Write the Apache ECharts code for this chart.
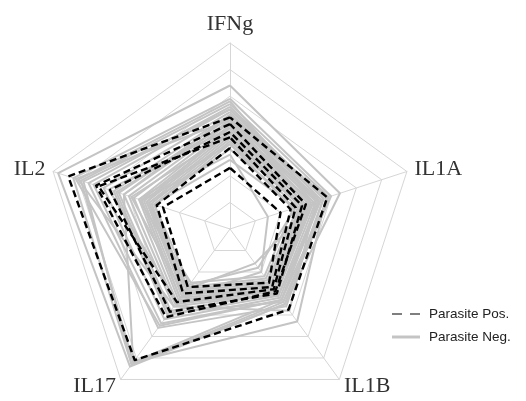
<!DOCTYPE html>
<html>
<head>
<meta charset="utf-8">
<script src="https://cdn.jsdelivr.net/npm/echarts@6/dist/echarts.min.js"></script>
<style>
  html, body { margin: 0; padding: 0; background: #fff; }
  #chart { width: 526px; height: 401px; }
</style>
</head>
<body>
<div id="chart"></div>
<script>
// Cytokine axes, in the order the radar lays them out (top, then counter-clockwise)
const cytokines = ['IFNg', 'IL2', 'IL17', 'IL1B', 'IL1A'];
const axisMax = 7;

// One row per parasite-positive sample: [IFNg, IL2, IL17, IL1B, IL1A]
const parasitePos = [
  [4.2, 6.4, 6.1, 3.75, 3.85],
  [3.95, 5.3, 4.1, 2.9, 3.0],
  [3.65, 4.75, 3.85, 3.0, 2.85],
  [3.45, 5.2, 3.4, 2.8, 2.6],
  [3.05, 2.9, 3.0, 2.7, 2.4],
  [2.3, 2.65, 2.7, 2.5, 2.0]
];

// One row per parasite-negative sample: [IFNg, IL2, IL17, IL1B, IL1A]
const parasiteNeg = [
  [5.4, 6.8, 6.4, 3.5, 4.35],
  [4.9, 6.2, 6.3, 3.4, 4.0],
  [4.7, 5.9, 6.2, 3.3, 3.9],
  [4.5, 5.8, 6.3, 3.5, 3.7],
  [4.6, 5.6, 4.6, 3.6, 3.7],
  [4.5, 5.4, 4.4, 3.3, 3.6],
  [4.1, 6.1, 4.5, 3.3, 3.5],
  [4.4, 5.0, 4.2, 3.2, 3.5],
  [4.3, 4.6, 4.0, 3.1, 3.4],
  [4.0, 4.5, 3.9, 3.4, 3.9],
  [3.8, 4.8, 3.4, 3.1, 3.6],
  [4.2, 4.4, 3.8, 3.0, 3.3],
  [4.1, 4.2, 3.6, 3.0, 3.2],
  [4.0, 4.0, 3.5, 2.9, 3.2],
  [3.9, 3.8, 3.4, 2.9, 3.1],
  [3.6, 3.9, 3.0, 2.9, 3.3],
  [3.8, 3.6, 3.3, 2.8, 3.1],
  [3.7, 3.5, 3.2, 2.8, 3.0],
  [3.6, 3.4, 3.1, 2.7, 3.0],
  [3.5, 3.3, 3.0, 2.6, 2.9],
  [3.4, 3.2, 3.0, 2.6, 2.9],
  [3.3, 3.1, 2.9, 2.5, 2.8],
  [3.2, 3.0, 2.8, 2.4, 2.8],
  [3.0, 3.2, 2.7, 2.3, 2.7],
  [3.2, 3.6, 2.5, 2.2, 2.5],
  [2.8, 3.5, 3.2, 2.0, 1.5],
  [2.6, 3.0, 2.6, 1.8, 2.6],
  [4.3, 4.2, 6.2, 4.3, 3.8],
  [3.9, 3.3, 2.8, 1.6, 3.4],
  [4.8, 6.0, 3.6, 3.8, 3.4]
];

const posName = 'Parasite Pos.';
const negName = 'Parasite Neg.';

const chart = echarts.init(document.getElementById('chart'), null, { renderer: 'canvas' });

chart.setOption({
  backgroundColor: '#ffffff',
  animation: false,
  legend: {
    orient: 'vertical',
    left: 387,
    top: 302,
    itemWidth: 28,
    itemHeight: 3,
    itemGap: 9,
    textStyle: { fontFamily: 'Liberation Sans', fontSize: 13.5, color: '#222', padding: [0, 0, 0, 4] },
    data: [
      { name: posName, icon: 'path://M0,0h10v1h-10z M18,0h10v1h-10z', itemStyle: { color: '#000' } },
      { name: negName, icon: 'rect', itemStyle: { color: '#c4c4c4' } }
    ]
  },
  radar: {
    center: [230, 229],
    radius: 186,
    startAngle: 90,
    shape: 'polygon',
    splitNumber: 7,
    nameGap: 8,
    indicator: cytokines.map(n => ({ name: n, min: 0, max: axisMax })),
    axisName: { color: '#333', fontFamily: 'Liberation Serif', fontSize: 22 },
    splitLine: { lineStyle: { color: '#d6d6d6', width: 1 } },
    splitArea: { show: false },
    axisLine: { lineStyle: { color: '#d6d6d6', width: 1 } },
    axisTick: { show: false },
    axisLabel: { show: false }
  },
  series: [
    {
      type: 'radar',
      name: negName,
      symbol: 'none',
      silent: true,
      lineStyle: { color: '#c4c4c4', width: 2, type: 'solid' },
      itemStyle: { color: '#c4c4c4' },
      data: parasiteNeg.map(v => ({ name: negName, value: v }))
    },
    {
      type: 'radar',
      name: posName,
      symbol: 'none',
      silent: true,
      lineStyle: { color: '#000000', width: 2.4, type: [7, 4] },
      itemStyle: { color: '#000000' },
      data: parasitePos.map(v => ({ name: posName, value: v }))
    }
  ]
});
</script>
</body>
</html>
